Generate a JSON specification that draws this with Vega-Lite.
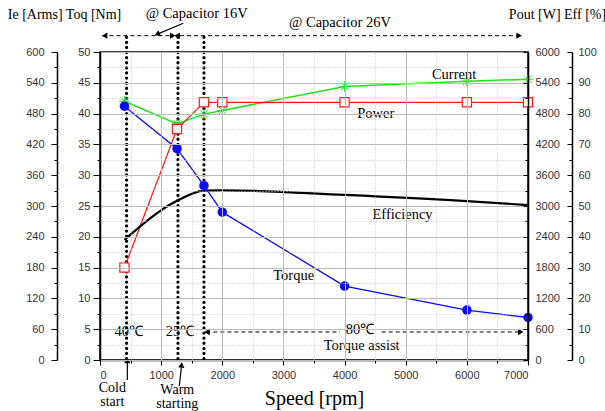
{
  "$schema": "https://vega.github.io/schema/vega-lite/v6.json",
  "width": 428,
  "height": 308,
  "autosize": "none",
  "padding": {"left": 100, "top": 52, "right": 77, "bottom": 51},
  "background": "white",
  "config": {
    "view": {"stroke": "#000", "strokeWidth": 1.5},
    "axis": {
      "labelFont": "Liberation Sans", "labelFontSize": 11, "labelColor": "#333",
      "domainColor": "#000", "domainWidth": 1.5, "tickColor": "#000", "tickWidth": 1,
      "titleFont": "Liberation Serif", "titleFontWeight": "normal", "titleColor": "#000", "grid": false
    }
  },
  "datasets": {
    "vlines": [{"rpm": 435}, {"rpm": 1275}, {"rpm": 1700}],
    "current": [
      {"rpm": 400, "ie": 504}, {"rpm": 1260, "ie": 460}, {"rpm": 1700, "ie": 479}, {"rpm": 2000, "ie": 486},
      {"rpm": 4000, "ie": 533}, {"rpm": 6000, "ie": 543}, {"rpm": 7000, "ie": 547}
    ],
    "power": [
      {"rpm": 400, "pout": 1800}, {"rpm": 1260, "pout": 4500}, {"rpm": 1700, "pout": 5020}, {"rpm": 2000, "pout": 5020},
      {"rpm": 4000, "pout": 5020}, {"rpm": 6000, "pout": 5020}, {"rpm": 7000, "pout": 5020}
    ],
    "eff": [
      {"rpm": 400, "eff": 39}, {"rpm": 1260, "eff": 51.7}, {"rpm": 1700, "eff": 55}, {"rpm": 2000, "eff": 55.1},
      {"rpm": 4000, "eff": 53.6}, {"rpm": 6000, "eff": 51.6}, {"rpm": 7000, "eff": 50.3}
    ],
    "torque": [
      {"rpm": 400, "toq": 41.2}, {"rpm": 1260, "toq": 34.3}, {"rpm": 1700, "toq": 28.3}, {"rpm": 2000, "toq": 24.0},
      {"rpm": 4000, "toq": 12.0}, {"rpm": 6000, "toq": 8.1}, {"rpm": 7000, "toq": 6.9}
    ],
    "labels": [
      {"text": "Current", "rpm": 5790, "toq": 46.3},
      {"text": "Power", "rpm": 4509, "toq": 39.9},
      {"text": "Efficiency", "rpm": 4948, "toq": 23.5},
      {"text": "Torque", "rpm": 3168, "toq": 13.6},
      {"text": "Torque assist", "rpm": 4280, "toq": 2.2},
      {"text": "40℃", "rpm": 471, "toq": 4.6},
      {"text": "25℃", "rpm": 1308, "toq": 4.6},
      {"text": "80℃", "rpm": 4252, "toq": 4.8},
      {"text": "@ Capacitor 16V", "rpm": 1581, "toq": 56.2},
      {"text": "@ Capacitor 26V", "rpm": 3925, "toq": 54.7}
    ],
    "notes": [
      {"text": "Cold start", "rpm": 201, "toq": -4.6},
      {"text": "Warm starting", "rpm": 1264, "toq": -4.85}
    ],
    "dashes": [
      {"rpm": 40, "rpm2": 1140, "toq": 52.65},
      {"rpm": 1308, "rpm2": 6880, "toq": 52.65},
      {"rpm": 1740, "rpm2": 3925, "toq": 4.55},
      {"rpm": 4607, "rpm2": 6900, "toq": 4.55}
    ],
    "leaders": [
      {"rpm": 1362, "toq": 54.66, "rpm2": 940, "toq2": 52.9},
      {"rpm": 447, "toq": -3.25, "rpm2": 447, "toq2": -0.3},
      {"rpm": 1297, "toq": -4.2, "rpm2": 1333, "toq2": -1.0}
    ],
    "headsLeft": [{"rpm": 75, "toq": 52.65}, {"rpm": 1262, "toq": 52.65}, {"rpm": 1750, "toq": 4.55}],
    "headsRight": [{"rpm": 1190, "toq": 52.65}, {"rpm": 6855, "toq": 52.65}, {"rpm": 6880, "toq": 4.55}],
    "headsUp": [{"rpm": 447, "toq": -0.1}],
    "headsWarm": [{"rpm": 1334, "toq": -0.8}],
    "headsLeader": [{"rpm": 935, "toq": 52.9}]
  },
  "resolve": {"scale": {"y": "independent"}, "axis": {"x": "independent"}},
  "layer": [
    {
      "data": {"name": "torque"},
      "mark": {"type": "point", "opacity": 0},
      "encoding": {
        "x": {
          "field": "rpm", "type": "quantitative",
          "scale": {"domain": [0, 7000], "nice": false},
          "axis": {
            "orient": "top", "title": null, "labels": false, "ticks": false, "domain": false,
            "values": [500, 1500, 2500, 3500, 4500, 5500, 6500], "zindex": 1,
            "grid": true, "gridColor": "#c4c4c4", "gridDash": [1, 2], "gridWidth": 1
          }
        },
        "y": {
          "field": "toq", "type": "quantitative", "scale": {"domain": [0, 50], "nice": false},
          "axis": {
            "orient": "left", "title": null, "labels": false, "domain": false,
            "values": [2.5, 7.5, 12.5, 17.5, 22.5, 27.5, 32.5, 37.5, 42.5, 47.5], "zindex": 1,
            "ticks": true, "tickSize": 3,
            "grid": true, "gridColor": "#c4c4c4", "gridDash": [1, 2], "gridWidth": 1
          }
        }
      }
    },
    {
      "data": {"name": "vlines"},
      "mark": {"type": "rule", "stroke": "#000", "strokeWidth": 3.2, "strokeDash": [0.1, 5], "strokeCap": "round", "clip": false},
      "encoding": {
        "x": {
          "field": "rpm", "type": "quantitative",
          "scale": {"domain": [0, 7000], "nice": false},
          "axis": {
            "orient": "bottom",
            "title": "Speed [rpm]", "titleFontSize": 20, "titlePadding": 8,
            "values": [0, 500, 1000, 1500, 2000, 2500, 3000, 3500, 4000, 4500, 5000, 5500, 6000, 6500, 7000],
            "format": "d",
            "labelExpr": "datum.value % 1000 === 0 ? datum.label : ''",
            "tickSize": {"condition": {"test": "datum.value % 1000 === 0", "value": 5}, "value": 3},
            "labelPadding": 4,
            "grid": false
          }
        },
        "y": {"datum": 52.4, "type": "quantitative", "scale": {"domain": [0, 50], "nice": false}, "axis": null},
        "y2": {"datum": -0.4}
      }
    },
    {
      "data": {"name": "current"},
      "mark": {"type": "line", "color": "#22e022", "strokeWidth": 1.5,
        "point": {"shape": "M-1,0L1,0M0,-1L0,1M-0.72,-0.72L0.72,0.72M-0.72,0.72L0.72,-0.72", "filled": false, "stroke": "#22e022", "strokeWidth": 1, "size": 110}},
      "encoding": {
        "x": {"field": "rpm", "type": "quantitative", "scale": {"domain": [0, 7000], "nice": false}, "axis": null},
        "y": {
          "field": "ie", "type": "quantitative", "scale": {"domain": [0, 600], "nice": false},
          "axis": {
            "orient": "left", "offset": 43, "title": null,
            "values": [0,30,60,90,120,150,180,210,240,270,300,330,360,390,420,450,480,510,540,570,600],
            "labelExpr": "datum.value % 60 === 0 ? datum.label : ''",
            "tickSize": {"condition": {"test": "datum.value % 60 === 0", "value": 6}, "value": 3},
            "labelPadding": 7
          }
        }
      }
    },
    {
      "data": {"name": "power"},
      "mark": {"type": "line", "color": "#ff1a1a", "strokeWidth": 1.3,
        "point": {"shape": "square", "filled": true, "fill": "white", "stroke": "#ff1a1a", "strokeWidth": 1.2, "size": 85}},
      "encoding": {
        "x": {"field": "rpm", "type": "quantitative", "scale": {"domain": [0, 7000], "nice": false}, "axis": null},
        "y": {
          "field": "pout", "type": "quantitative", "scale": {"domain": [0, 6000], "nice": false},
          "axis": {
            "orient": "right", "offset": 0, "title": null, "zindex": 1,
            "values": [0,300,600,900,1200,1500,1800,2100,2400,2700,3000,3300,3600,3900,4200,4500,4800,5100,5400,5700,6000],
            "format": "d",
            "labelExpr": "datum.value % 600 === 0 ? datum.label : ''",
            "tickSize": {"condition": {"test": "datum.value % 600 === 0", "value": -5}, "value": -3},
            "labelPadding": 12
          }
        }
      }
    },
    {
      "data": {"name": "eff"},
      "mark": {"type": "line", "color": "#000", "strokeWidth": 2.2, "interpolate": "monotone"},
      "encoding": {
        "x": {"field": "rpm", "type": "quantitative", "scale": {"domain": [0, 7000], "nice": false}, "axis": null},
        "y": {
          "field": "eff", "type": "quantitative", "scale": {"domain": [0, 100], "nice": false},
          "axis": {
            "orient": "right", "offset": 44,
            "title": "Pout [W] Eff [%]", "titleAngle": 0, "titleFontSize": 14,
            "titleAlign": "center", "titleBaseline": "middle", "titleX": -15, "titleY": -38,
            "values": [0,5,10,15,20,25,30,35,40,45,50,55,60,65,70,75,80,85,90,95,100],
            "labelExpr": "datum.value % 10 === 0 ? datum.label : ''",
            "tickSize": {"condition": {"test": "datum.value % 10 === 0", "value": -5}, "value": -3},
            "labelPadding": 11
          }
        }
      }
    },
    {
      "data": {"name": "torque"},
      "mark": {"type": "line", "color": "#0a0aff", "strokeWidth": 1.3,
        "point": {"shape": "circle", "filled": true, "color": "#0a0aff", "size": 90}},
      "encoding": {
        "x": {
          "field": "rpm", "type": "quantitative", "scale": {"domain": [0, 7000], "nice": false},
          "axis": {
            "orient": "top", "title": null, "labels": false, "ticks": false, "domain": false,
            "values": [1000, 2000, 3000, 4000, 5000, 6000], "zindex": 1,
            "grid": true, "gridColor": "#bcbcbc", "gridWidth": 1
          }
        },
        "y": {
          "field": "toq", "type": "quantitative", "scale": {"domain": [0, 50], "nice": false},
          "axis": {
            "orient": "left", "offset": 0, "zindex": 1,
            "title": "Ie [Arms] Toq [Nm]", "titleAngle": 0, "titleFontSize": 14,
            "titleAlign": "center", "titleBaseline": "middle", "titleX": -36, "titleY": -38,
            "values": [0, 5, 10, 15, 20, 25, 30, 35, 40, 45, 50],
            "tickSize": 7,
            "labelPadding": 3,
            "grid": true, "gridColor": "#bcbcbc", "gridWidth": 1
          }
        }
      }
    },
    {
      "data": {"name": "dashes"},
      "mark": {"type": "rule", "stroke": "#000", "strokeWidth": 1, "strokeDash": [4, 3], "clip": false},
      "encoding": {
        "x": {"field": "rpm", "type": "quantitative", "scale": {"domain": [0, 7000], "nice": false}, "axis": null},
        "x2": {"field": "rpm2"},
        "y": {"field": "toq", "type": "quantitative", "scale": {"domain": [0, 50], "nice": false}, "axis": null}
      }
    },
    {
      "data": {"name": "leaders"},
      "mark": {"type": "rule", "stroke": "#000", "strokeWidth": 1.2, "clip": false},
      "encoding": {
        "x": {"field": "rpm", "type": "quantitative", "scale": {"domain": [0, 7000], "nice": false}, "axis": null},
        "x2": {"field": "rpm2"},
        "y": {"field": "toq", "type": "quantitative", "scale": {"domain": [0, 50], "nice": false}, "axis": null},
        "y2": {"field": "toq2"}
      }
    },
    {
      "data": {"name": "headsLeft"},
      "mark": {"type": "point", "shape": "triangle-left", "filled": true, "color": "#000", "size": 40, "opacity": 1, "clip": false},
      "encoding": {
        "x": {"field": "rpm", "type": "quantitative", "scale": {"domain": [0, 7000], "nice": false}, "axis": null},
        "y": {"field": "toq", "type": "quantitative", "scale": {"domain": [0, 50], "nice": false}, "axis": null}
      }
    },
    {
      "data": {"name": "headsRight"},
      "mark": {"type": "point", "shape": "triangle-right", "filled": true, "color": "#000", "size": 40, "opacity": 1, "clip": false},
      "encoding": {
        "x": {"field": "rpm", "type": "quantitative", "scale": {"domain": [0, 7000], "nice": false}, "axis": null},
        "y": {"field": "toq", "type": "quantitative", "scale": {"domain": [0, 50], "nice": false}, "axis": null}
      }
    },
    {
      "data": {"name": "headsUp"},
      "mark": {"type": "point", "shape": "triangle-up", "filled": true, "color": "#000", "size": 40, "opacity": 1, "clip": false},
      "encoding": {
        "x": {"field": "rpm", "type": "quantitative", "scale": {"domain": [0, 7000], "nice": false}, "axis": null},
        "y": {"field": "toq", "type": "quantitative", "scale": {"domain": [0, 50], "nice": false}, "axis": null}
      }
    },
    {
      "data": {"name": "headsWarm"},
      "mark": {"type": "point", "shape": "triangle-up", "filled": true, "color": "#000", "size": 40, "angle": 6, "opacity": 1, "clip": false},
      "encoding": {
        "x": {"field": "rpm", "type": "quantitative", "scale": {"domain": [0, 7000], "nice": false}, "axis": null},
        "y": {"field": "toq", "type": "quantitative", "scale": {"domain": [0, 50], "nice": false}, "axis": null}
      }
    },
    {
      "data": {"name": "headsLeader"},
      "mark": {"type": "point", "shape": "triangle-up", "filled": true, "color": "#000", "size": 40, "angle": 246, "opacity": 1, "clip": false},
      "encoding": {
        "x": {"field": "rpm", "type": "quantitative", "scale": {"domain": [0, 7000], "nice": false}, "axis": null},
        "y": {"field": "toq", "type": "quantitative", "scale": {"domain": [0, 50], "nice": false}, "axis": null}
      }
    },
    {
      "data": {"name": "labels"},
      "mark": {"type": "text", "font": "Liberation Serif", "fontSize": 14.5, "color": "#000", "align": "center", "baseline": "middle", "clip": false},
      "encoding": {
        "x": {"field": "rpm", "type": "quantitative", "scale": {"domain": [0, 7000], "nice": false}, "axis": null},
        "y": {"field": "toq", "type": "quantitative", "scale": {"domain": [0, 50], "nice": false}, "axis": null},
        "text": {"field": "text"}
      }
    },
    {
      "data": {"name": "notes"},
      "mark": {"type": "text", "font": "Liberation Serif", "fontSize": 14, "color": "#000", "align": "center", "baseline": "middle", "lineBreak": " ", "lineHeight": 14, "clip": false},
      "encoding": {
        "x": {"field": "rpm", "type": "quantitative", "scale": {"domain": [0, 7000], "nice": false}, "axis": null},
        "y": {"field": "toq", "type": "quantitative", "scale": {"domain": [0, 50], "nice": false}, "axis": null},
        "text": {"field": "text"}
      }
    }
  ]
}
